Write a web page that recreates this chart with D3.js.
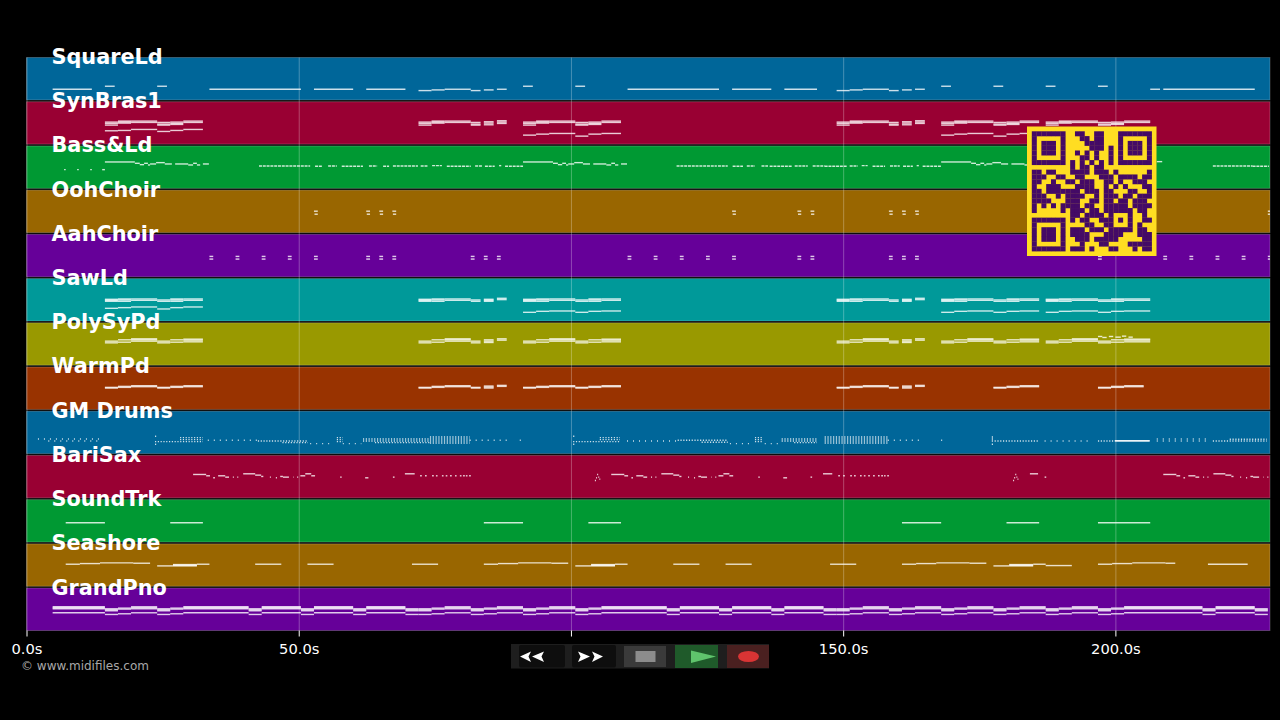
<!DOCTYPE html>
<html>
<head>
<meta charset="utf-8">
<title>MIDI piano roll</title>
<script src="https://cdn.jsdelivr.net/npm/d3@7"></script>
<style>
  html, body { margin: 0; background: #000; overflow: hidden; }
  svg { display: block; font-family: "DejaVu Sans", sans-serif; }
  .tick text { fill: #fff; font-size: 14.7px; font-family: "DejaVu Sans", sans-serif; }
  .tick line { stroke: #fff; }
  .trackLabel { fill: #fff; font-size: 20.8px; font-weight: bold; }
</style>
</head>
<body>
<div id="chart"></div>
<script>
var trackNames = ["SquareLd", "SynBras1", "Bass&Ld", "OohChoir", "AahChoir", "SawLd", "PolySyPd",
  "WarmPd", "GM Drums", "BariSax", "SoundTrk", "Seashore", "GrandPno"];
var trackColors = ["#006699", "#990033", "#009933", "#996600", "#660099", "#009999", "#999900",
  "#993300", "#006699", "#990033", "#009933", "#996600", "#660099"];
var timeTicks = [0, 50, 100, 150, 200];

// every note row is [start seconds, end seconds, pitch, pitch...]
var squareLd = [[4.8,12,32],[14.4,16.2,41],[24,25.8,41],[33.6,50.4,32],[52.8,60,32],[62.4,69.6,32],
  [72,74.4,28],[74.4,76.8,30],[76.8,81.6,32],[81.6,83.4,28],[84,85.8,30],[86.4,88.2,32],[91.2,93,41],
  [100.8,102.6,41],[110.4,127.2,32],[129.6,136.8,32],[139.2,145.2,32],[148.8,151.2,28],[151.2,153.6,30],
  [153.6,158.4,32],[158.4,160.2,28],[160.8,162.6,30],[163.2,165,32],[168,169.8,41],[177.6,179.4,41],
  [187.2,189,41],[196.8,198.6,41],[206.4,208.2,32],[208.8,225.6,32]];

var synBras = [[14.4,16.8,66,62,57,40],[16.8,19.2,69,66,63,41],[19.2,24,69,65,44],[24,26.4,65,60,57,38],
  [26.4,28.8,66,62,59,41],[28.8,32.4,69,65,44],
  [72,74.4,66,62,57],[74.4,76.8,69,66,63],[76.8,81.6,69,65],[81.6,83.4,65,60,57],[84,85.8,67,63,58],[86.4,88.2,70,66,62],
  [91.2,93.6,66,62,57,27],[93.6,96,69,66,63,30],[96,100.8,69,65,32],[100.8,103.2,65,60,57,24],
  [103.2,105.6,66,62,59,30],[105.6,109.2,69,65,32],
  [148.8,151.2,66,62,57],[151.2,153.6,69,66,63],[153.6,158.4,69,65],[158.4,160.2,65,60,57],[160.8,162.6,67,63,58],[163.2,165,70,66,62],
  [168,170.4,66,62,57,27],[170.4,172.8,69,66,63,30],[172.8,177.6,69,65,32],[177.6,180,65,60,57,24],
  [180,182.4,66,62,59,30],[182.4,186,69,65,32],
  [187.2,189.6,66,62,57,27],[189.6,192,69,66,63,30],[192,196.8,69,65,32],[196.8,199.2,65,60,57,24],
  [199.2,201.6,66,62,59,30],[201.6,206.4,69,65,32]];

var bassLead = [[6.9,7.2,56],[9.3,9.6,56],[11.7,12,56],[13.9,14.4,56],
  [14.4,19.9,79],[19.9,20.8,75],[20.8,21.6,71],[21.6,22.3,75],[22.3,22.7,70],[22.7,23.8,73],[23.8,25.4,77],
  [25.4,26.7,73],[27.3,29.7,73],[29.7,30.6,70],[30.6,31.3,75],[31.3,31.9,70],[32.4,33.5,73],
  [91.2,96.7,79],[96.7,97.6,75],[97.6,98.4,71],[98.4,99.1,75],[99.1,99.5,70],[99.5,100.6,73],[100.6,102.2,77],
  [102.2,103.5,73],[104.1,106.5,73],[106.5,107.4,70],[107.4,108.1,75],[108.1,108.7,70],[109.2,110.3,73],
  [168,173.5,79],[173.5,174.4,75],[174.4,175.2,71],[175.2,175.9,75],[175.9,176.3,70],[176.3,177.4,73],[177.4,179,77],
  [179,180.3,73],[180.9,183.3,73],[183.3,184.2,70],[184.2,184.9,75],[184.9,185.5,70],[186,187.1,73],[207.6,208.6,80]];

var bassRuns = [[42.7,52.1,67],[53,54.4,66],[55.4,57,67],[57.9,61.8,66],[62.9,64.4,67],[65.5,66.6,66],[67.3,71.9,67],
  [72.4,73.7,67],[74.5,76.3,68],[77.2,81.6,66],[82.4,83.8,67],[84.2,86,66],[86.8,87.2,68],[87.9,91.2,66],
  [119.4,126.8,67],[127,128.8,67],[129.7,131.6,66],[132.3,133.8,67],[135,136.2,67],[136.5,140.6,66],[141.1,143.5,67],
  [144.4,146.6,67],[146.6,150.7,66],[151.2,152.7,67],[153.4,154.5,68],[155.4,157.7,66],[158.6,160.4,67],[161,162.8,66],
  [163.5,163.9,68],[164.6,168,66],[217.9,225.2,67],[225.2,228.2,66]];

var oohChoir = [[52.8,53.5,64],[52.9,53.5,55],[62.4,63.1,64],[62.5,63.1,55],[64.8,65.5,64],[64.9,65.5,55],
  [67.2,67.9,64],[67.3,67.9,55],[129.6,130.3,64],[129.7,130.3,55],[141.6,142.3,64],[141.7,142.3,55],
  [144,144.7,64],[144.1,144.7,55],[158.4,159.1,64],[158.5,159.1,55],[160.8,161.5,64],[160.9,161.5,55],
  [163.2,163.9,64],[163.3,163.9,55],[228,228.4,64],[228,228.4,55]];

var aahChoir = [[33.6,34.3,61,53],[38.4,39.1,61,53],[43.2,43.9,61,53],[48,48.7,61,53],[52.8,53.5,61,53],
  [62.4,63.1,61,53],[64.8,65.5,61,53],[67.2,67.9,61,53],[81.6,82.3,61,53],[84,84.7,61,53],[86.4,87.1,61,53],
  [110.4,111.1,61,53],[115.2,115.9,61,53],[120,120.7,61,53],[124.8,125.5,61,53],[129.6,130.3,61,53],
  [141.6,142.3,61,53],[144,144.7,61,53],[158.4,159.1,61,53],[160.8,161.5,61,53],[163.2,163.9,61,53],
  [196.8,197.5,61,53],[208.8,209.5,61,53],[213.6,214.3,61,53],[218.4,219.1,61,53],[223.2,223.9,61,53],[228,228.4,61,53]];

var sawLd = [[14.4,16.8,65,62,59,38],[16.8,19.2,66,63,59,40],[19.2,24,66,62,42],[24,26.4,63,59,36],
  [26.4,28.8,66,63,59,40],[28.8,32.4,66,62,42],
  [72,74.4,65,62,59],[74.4,76.8,66,63,59],[76.8,81.6,66,62],[81.6,83.4,63,59],[84,85.8,65,62,59],[86.4,88.2,68,64],
  [91.2,93.6,65,62,59,26],[93.6,96,66,63,59,29],[96,100.8,66,62,30],[100.8,103.2,63,59,26],
  [103.2,105.6,66,63,59,29],[105.6,109.2,66,62,30],
  [148.8,151.2,65,62,59],[151.2,153.6,66,63,59],[153.6,158.4,66,62],[158.4,160.2,63,59],[160.8,162.6,65,62,59],[163.2,165,68,64],
  [168,170.4,65,62,59,26],[170.4,172.8,66,63,59,29],[172.8,177.6,66,62,30],[177.6,180,63,59,26],
  [180,182.4,66,63,59,29],[182.4,186,66,62,30],
  [187.2,189.6,65,62,59,26],[189.6,192,66,63,59,29],[192,196.8,66,62,30],[196.8,199.2,63,59,26],
  [199.2,201.6,66,63,59,29],[201.6,206.4,66,62,30]];

var polySy = [[14.4,16.8,72,67],[16.8,19.2,76,69],[19.2,24,79,76,72],[24,26.4,72,67],[26.4,28.8,76,69],[28.8,32.4,78,75,70],
  [72,74.4,72,67],[74.4,76.8,76,69],[76.8,81.6,79,76,72],[81.6,83.4,72,67],[84,85.8,76,72,68],[86.4,88.2,79,75],
  [91.2,93.6,72,67],[93.6,96,76,69],[96,100.8,79,76,72],[100.8,103.2,72,67],[103.2,105.6,76,69],[105.6,109.2,78,75,70],
  [148.8,151.2,72,67],[151.2,153.6,76,69],[153.6,158.4,79,76,72],[158.4,160.2,72,67],[160.8,162.6,76,72,68],[163.2,165,79,75],
  [168,170.4,72,67],[170.4,172.8,76,69],[172.8,177.6,79,76,72],[177.6,180,72,67],[180,182.4,76,69],[182.4,186,78,75,70],
  [187.2,189.6,72,67],[189.6,192,76,69],[192,196.8,79,76,72],[196.8,199.2,72,67],[199.2,201.6,76,69],[201.6,206.4,78,75,70],
  [196.8,197.6,86],[197.6,198.4,83],[198.8,199.6,86],[200,201,84],[201.2,202,87],[202.4,203.2,84]];

var warmPd = [[14.4,16.8,66,64],[16.8,19.2,69,66],[19.2,24,71,68],[24,26.4,66,64],[26.4,28.8,69,66],[28.8,32.4,71,68],
  [72,74.4,66,64],[74.4,76.8,69,66],[76.8,81.6,71,68],[81.6,83.4,66,64],[84,85.8,70,67,64],[86.4,88.2,72,69],
  [91.2,93.6,66,64],[93.6,96,69,66],[96,100.8,71,68],[100.8,103.2,66,64],[103.2,105.6,69,66],[105.6,109.2,71,68],
  [148.8,151.2,66,64],[151.2,153.6,69,66],[153.6,158.4,71,68],[158.4,160.2,66,64],[160.8,162.6,70,67,64],[163.2,165,72,69],
  [177.6,180,66,64],[180,182.4,69,66],[182.4,186,71,68],[196.8,199.2,66,64],[199.2,201.6,69,66],[201.6,205.2,71,68]];

var drumRuns = [[23.6,32.4,36],[23.6,24,52],[23.6,24,28],[28.2,32.4,48],[28.2,32.4,42],[42.5,51.7,38],[47,51.7,33],
  [57,58.1,48],[57,58.1,42],[57,58.1,36],[61.8,74.1,44],[61.8,74.1,38],[64,74.1,33],
  [74.1,81.4,50],[74.1,81.4,44],[74.1,81.4,38],[74.1,81.4,32],
  [100.4,109,36],[100.4,100.8,52],[100.4,100.8,28],[105.3,109,48],[105.3,109,42],[119.6,128.8,40],[124,128.8,34],
  [133.8,135.3,48],[133.8,135.3,42],[133.8,135.3,36],[138.7,145.2,44],[138.7,145.2,38],[141,145.2,33],
  [146.6,158.2,50],[146.6,158.2,44],[146.6,158.2,38],[146.6,158.2,32],
  [177.3,185.8,38],[177.3,177.7,50],[177.3,177.7,44],[177.3,177.7,28],[196.8,199.9,38],[217.9,227.8,38],[221,227.8,43]];
var drumSparse = [[2.1,13.5,44],[4,13.5,38],[33.3,42.3,40],[52.1,56.3,30],[58.1,61.5,30],[81.4,88.2,40],[90.6,90.9,40],
  [110.3,119.4,38],[129.2,133.4,30],[135.6,138.4,30],[158.2,164.6,40],[168,168.3,40],[187,195.3,38],
  [207.6,217,44],[207.6,217,38]];
var drumHeld = [[199.9,206.3,38,39]];

var bariSax = [[30.6,33,70],[33,33.7,66],[34.3,34.6,60],[35.2,36.5,66],[36.5,37.2,62],[37.9,38.1,62],[38.7,38.9,62],
  [39.8,42,72],[42,43.1,68],[43.1,43.5,64],[44.7,44.9,62],[45.8,46,60],[46.6,47.1,64],[47.1,48.2,62],[49,49.1,62],
  [49.7,49.9,62],[50.3,51.2,66],[51.2,52.3,72],[52.3,53,66],
  [57.6,57.9,62],[62.2,62.8,60],[67.3,67.6,62],[69.5,71.3,72],[72.3,72.6,66],[73.2,73.5,66],[74.5,74.8,66],[75.2,75.5,66],
  [76.3,76.6,66],[77,77.3,66],[77.8,78.1,66],[78.7,79,66],[79.6,79.9,66],[80.2,80.5,66],[80.7,81,66],[81.3,81.6,66],
  [104.4,104.6,52],[104.6,104.8,60],[104.8,105,70],[105,105.2,62],[105.2,105.4,56],
  [107.4,109.8,70],[109.8,110.5,66],[111.1,111.4,60],[112,113.3,66],[113.3,114,62],[114.7,114.9,62],[115.5,115.7,62],
  [116.6,118.8,72],[118.8,119.9,68],[119.9,120.3,64],[121.5,121.7,62],[122.6,122.8,60],[123.4,123.9,64],[123.9,125,62],
  [125.8,125.9,62],[126.5,126.7,62],[127.1,128,66],[128,129.1,72],[129.1,129.8,66],
  [134.4,134.7,62],[139,139.7,60],[144,144.3,62],[146.3,148,72],[149.1,149.4,66],[150,150.3,66],[151.3,151.6,66],[152,152.3,66],
  [153.1,153.4,66],[153.8,154.1,66],[154.6,154.9,66],[155.5,155.8,66],[156.4,156.7,66],[157,157.3,66],[157.5,157.8,66],[158.1,158.4,66],
  [181.2,181.4,52],[181.4,181.6,60],[181.6,181.8,70],[181.8,182,62],[182,182.2,56],[184.3,185.8,72],[187,187.3,62],
  [208.8,211.2,70],[211.2,211.9,66],[212.5,212.8,60],[213.4,214.7,66],[214.7,215.4,62],[216.1,216.3,62],[216.9,217.1,62],
  [218,220.2,72],[220.2,221.3,68],[221.3,221.7,64],[222.9,223.1,62],[224,224.2,60],[224.8,225.3,64],[225.3,226.4,62],
  [227.2,227.3,62],[227.9,228.1,62]];

var soundTrk = [[7.2,14.4,58],[26.4,32.4,58],[84,91.2,58],[103.2,109.2,58],[160.8,168,58],[180,186,58],[196.8,206.4,58]];

var seashore = [[7.2,9.8,66],[9.8,13.5,68],[13.5,19.6,70],[19.6,22.7,69],[24,26.9,61],[26.9,31.3,65,63,61],[31.3,33.6,66],
  [42,46.8,66],[51.6,56.4,66],[70.8,75.6,66],
  [84,86.6,66],[86.6,90.3,68],[90.3,96.4,70],[96.4,99.5,69],[100.8,103.7,61],[103.7,108.1,65,63,61],[108.1,110.4,66],
  [118.8,123.6,66],[128.4,133.2,66],[147.6,152.4,66],
  [160.8,163.4,66],[163.4,167.1,68],[167.1,173.2,70],[173.2,176.3,69],[177.6,180.5,61],[180.5,184.9,65,63,61],[184.9,187.2,66],
  [187.2,192,62],[196.8,199.4,66],[199.4,203.1,68],[203.1,209.2,70],[209.2,211,69],[217,224.3,66]];

var grandPno = [[4.8,14.4,71,68,65,53],[14.4,16.8,65,62,59,48],[16.8,19.2,67,64,50],[19.2,24,71,68,65,53],
  [24,26.4,65,62,59,48],[26.4,28.8,67,64,50],[28.8,40.8,71,68,65,53],[40.8,43.2,65,62,59,48],[43.2,50.4,71,68,65,53],
  [50.4,52.8,65,62,59,48],[52.8,60,71,68,65,53],[60,62.4,65,62,59,48],[62.4,69.6,71,68,65,53],[69.6,72,65,62,59,48],
  [72,74.4,65,62,59,48],[74.4,76.8,67,64,50],[76.8,81.6,71,68,65,53],[81.6,84,65,62,59,48],[84,86.4,67,64,50],
  [86.4,91.2,71,68,65,53],[91.2,93.6,65,62,59,48],[93.6,96,67,64,50],[96,100.8,71,68,65,53],[100.8,103.2,65,62,59,48],
  [103.2,105.6,67,64,50],[105.6,117.6,71,68,65,53],[117.6,120,65,62,59,48],[120,127.2,71,68,65,53],[127.2,129.6,65,62,59,48],
  [129.6,136.8,71,68,65,53],[136.8,139.2,65,62,59,48],[139.2,146.4,71,68,65,53],[146.4,148.8,65,62,59,48],
  [148.8,151.2,65,62,59,48],[151.2,153.6,67,64,50],[153.6,158.4,71,68,65,53],[158.4,160.8,65,62,59,48],[160.8,163.2,67,64,50],
  [163.2,168,71,68,65,53],[168,170.4,65,62,59,48],[170.4,172.8,67,64,50],[172.8,177.6,71,68,65,53],[177.6,180,65,62,59,48],
  [180,182.4,67,64,50],[182.4,187.2,71,68,65,53],[187.2,189.6,65,62,59,48],[189.6,192,67,64,50],[192,196.8,71,68,65,53],
  [196.8,199.2,65,62,59,48],[199.2,201.6,67,64,50],[201.6,216,71,68,65,53],[216,218.4,65,62,59,48],[218.4,225.6,71,68,65,53],
  [225.6,228,65,62,59,48]];

// track, rows, dash pattern
var noteSets = [
  ["SquareLd", squareLd, null], ["SynBras1", synBras, null], ["Bass&Ld", bassLead, null], ["Bass&Ld", bassRuns, "3 0.8"],
  ["OohChoir", oohChoir, null], ["AahChoir", aahChoir, null], ["SawLd", sawLd, null], ["PolySyPd", polySy, null],
  ["WarmPd", warmPd, null], ["GM Drums", drumRuns, "1.2 1.6"], ["GM Drums", drumSparse, "1 5"], ["GM Drums", drumHeld, null],
  ["BariSax", bariSax, null], ["SoundTrk", soundTrk, null], ["Seashore", seashore, null], ["GrandPno", grandPno, null]
];

var qrRows = [
  "1111111001100110001111111",
  "1000001000110110001000001",
  "1011101000011110001011101",
  "1011101000001110101011101",
  "1011101001010100101011101",
  "1000001000110100101000001",
  "1111111010101010101111111",
  "0000000010110110000000000",
  "1101100011110111010000001",
  "1110011001100011101111011",
  "1100100110111001101001110",
  "1001110001111001010100011",
  "1101111111011101100011001",
  "1110010111100101110110111",
  "1111000111001101101101110",
  "1010101111011001111101111",
  "1000001011101101111110110",
  "0000000011011110100010010",
  "1111111010110011101010011",
  "1000001000011001100010100",
  "1011101011101110111110110",
  "1011101011110001111000111",
  "1011101001110111110000011",
  "1000001000100011000011111",
  "1111111011101000110001011"
];

var svgWidth = 1280;
var svgHeight = 720;

var svg = d3.select("#chart")
  .append("svg")
  .attr("width", svgWidth)
  .attr("height", svgHeight);

var plotTop = 57.5;
var plotBottom = 630.5;

var xScale = d3.scaleLinear().domain([0, 228.4]).range([26.5, 1270]);
var trackScale = d3.scaleBand().domain(trackNames).range([plotTop, plotBottom]).paddingInner(0.04);
var pitchScale = d3.scaleLinear().domain([0, 127]).range([trackScale.bandwidth(), 0]);

// track bands
svg.append("g").selectAll("rect")
  .data(trackNames)
  .enter()
  .append("rect")
  .attr("x", xScale(0))
  .attr("y", d => trackScale(d))
  .attr("width", xScale.range()[1] - xScale(0))
  .attr("height", trackScale.bandwidth())
  .attr("fill", (d, i) => trackColors[i])
  .attr("stroke", "#fff")
  .attr("stroke-opacity", 0.22)
  .attr("stroke-width", 1);

// grid
var gridAxis = d3.axisBottom(xScale).tickValues(timeTicks).tickSize(-(plotBottom - plotTop)).tickFormat("");
var grid = svg.append("g")
  .attr("transform", `translate(0, ${plotBottom})`)
  .call(gridAxis);
grid.select(".domain").remove();
grid.selectAll("line").attr("stroke", "#fff").attr("stroke-opacity", 0.28);

// notes
noteSets.forEach(function (set) {
  var track = set[0];
  var segments = [];
  set[1].forEach(function (row) {
    row.slice(2).forEach(function (pitch) {
      segments.push({ start: row[0], end: row[1], pitch: pitch });
    });
  });
  svg.append("g").selectAll("line")
    .data(segments)
    .enter()
    .append("line")
    .attr("x1", d => xScale(d.start))
    .attr("x2", d => xScale(d.end))
    .attr("y1", d => trackScale(track) + pitchScale(d.pitch))
    .attr("y2", d => trackScale(track) + pitchScale(d.pitch))
    .attr("stroke", "#fff")
    .attr("stroke-opacity", 0.8)
    .attr("stroke-width", 1.4)
    .attr("stroke-dasharray", set[2]);
});

// x axis
var bottomAxis = d3.axisBottom(xScale)
  .tickValues(timeTicks)
  .tickSize(6)
  .tickPadding(7)
  .tickFormat(d => d.toFixed(1) + "s");
var xAxis = svg.append("g")
  .attr("transform", `translate(0, ${plotBottom})`)
  .call(bottomAxis);
xAxis.select(".domain").remove();

// track names
svg.append("g").selectAll("text")
  .data(trackNames)
  .enter()
  .append("text")
  .attr("class", "trackLabel")
  .attr("x", 51.5)
  .attr("y", d => trackScale(d) + 6.5)
  .text(d => d);

svg.append("text")
  .attr("x", 21)
  .attr("y", 670)
  .attr("fill", "#a8a8a8")
  .attr("font-size", 12)
  .text("© www.midifiles.com");

// QR block
var qrX = 1027;
var qrY = 126.5;
var qrSize = 129.5;
var qrScale = d3.scaleBand().domain(d3.range(27)).range([0, qrSize]);
var qr = svg.append("g").attr("transform", `translate(${qrX}, ${qrY})`);
qr.append("rect").attr("width", qrSize).attr("height", qrSize).attr("fill", "#ffdd22");
qrRows.forEach(function (row, r) {
  qr.append("g").selectAll("rect")
    .data(row.split("").map((v, c) => ({ v: v, c: c })).filter(d => d.v === "1"))
    .enter()
    .append("rect")
    .attr("x", d => qrScale(d.c + 1))
    .attr("y", qrScale(r + 1))
    .attr("width", qrScale.bandwidth() + 0.2)
    .attr("height", qrScale.bandwidth() + 0.2)
    .attr("fill", "#440a66");
});

// player buttons
var controls = svg.append("g");
controls.append("rect").attr("x", 511).attr("y", 644).attr("width", 258).attr("height", 24.5).attr("fill", "#1e1e1e");
controls.append("rect").attr("x", 519).attr("y", 645).attr("width", 46).attr("height", 22.5).attr("rx", 2).attr("fill", "#0e0e0e");
controls.append("rect").attr("x", 572).attr("y", 645).attr("width", 44).attr("height", 22.5).attr("rx", 2).attr("fill", "#0e0e0e");
controls.append("rect").attr("x", 624).attr("y", 646).attr("width", 42).attr("height", 21).attr("fill", "#3a3a3a");
controls.append("rect").attr("x", 635.5).attr("y", 651).attr("width", 20).attr("height", 11).attr("fill", "#8c8c8c");
controls.append("rect").attr("x", 675).attr("y", 645).attr("width", 43).attr("height", 23).attr("fill", "#1f5a2a");
controls.append("polygon").attr("points", "691,650.5 716,656.5 691,663").attr("fill", "#5fc46c");
controls.append("rect").attr("x", 727).attr("y", 645).attr("width", 42).attr("height", 23).attr("fill", "#4a2020");
controls.append("ellipse").attr("cx", 748.5).attr("cy", 656.5).attr("rx", 10.5).attr("ry", 5.5).attr("fill", "#d93434");
[
  "520,656.5 531,651.5 528.5,656.5 531,662",
  "532,656.5 544,651.5 541.5,656.5 544,662",
  "578,651.5 590,656.5 578,662 580.5,656.5",
  "592,651.5 603,656.5 592,662 594.5,656.5"
].forEach(function (p) {
  controls.append("polygon").attr("points", p).attr("fill", "#fff");
});
</script>
</body>
</html>
